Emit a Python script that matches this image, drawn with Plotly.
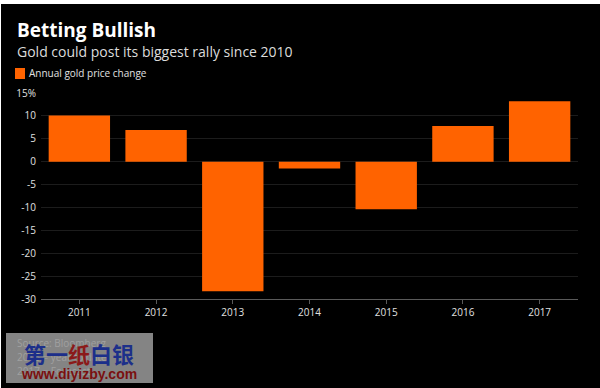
import plotly.graph_objects as go

years = ["2011", "2012", "2013", "2014", "2015", "2016", "2017"]
change = [10.1, 6.9, -28.3, -1.5, -10.4, 7.8, 13.2]
y_ticks = [15, 10, 5, 0, -5, -10, -15, -20, -25, -30]
y_tick_text = ["15%", "10", "5", "0", "-5", "-10", "-15", "-20", "-25", "-30"]
footer_lines = ["Source: Bloomberg", "2016 = year to date", "2017 = Forecast"]

ORANGE = "#ff6300"
FONT = "Open Sans"
L, T, PW, PH = 41, 93, 537, 206


def px(x):
    return (x - L) / PW


def py(y):
    return 1 - (y - T) / PH


fig = go.Figure()
fig.add_trace(go.Bar(
    x=years, y=change, marker=dict(color=ORANGE, line=dict(width=0)),
    width=0.8, name="Annual gold price change", showlegend=False,
    hoverinfo="x+y",
))

fig.update_layout(
    width=600, height=388,
    paper_bgcolor="#ffffff", plot_bgcolor="#000000",
    margin=dict(l=L, r=600 - L - PW, t=T, b=388 - T - PH),
    font=dict(family=FONT, color="#d8d8d8", size=10),
    xaxis=dict(
        type="category", range=[-0.5, 6.5], showgrid=False,
        showline=True, linecolor="#5a5a5a", linewidth=1,
        ticks="outside", ticklen=4, tickcolor="#5a5a5a",
        tickfont=dict(size=10, color="#e0e0e0", family=FONT),
        zeroline=False,
    ),
    yaxis=dict(
        range=[-30, 15], tickvals=y_ticks, ticktext=y_tick_text,
        showgrid=True, gridcolor="#1c1c1c", gridwidth=1,
        zeroline=False, showline=False, ticks="",
        tickfont=dict(size=10, color="#e0e0e0", family=FONT),
        ticklabelstandoff=4,
    ),
    bargap=0.2,
)

# black canvas of the screenshot, with a thin white edge at top/left
fig.add_shape(type="rect", xref="paper", yref="paper", x0=px(1), x1=px(601),
              y0=py(390), y1=py(4),
              fillcolor="#000000", line=dict(width=0), layer="below")

# title & subtitle
fig.add_annotation(text="<b>Betting Bullish</b>", xref="paper", yref="paper",
                   x=px(15), y=py(30), xanchor="left", yanchor="middle",
                   showarrow=False, font=dict(size=19, color="white", family=FONT))
fig.add_annotation(text="Gold could post its biggest rally since 2010", xref="paper", yref="paper",
                   x=px(15), y=py(51), xanchor="left", yanchor="middle",
                   showarrow=False, font=dict(size=14, color="#dcdcdc", family=FONT))
# legend
fig.add_shape(type="rect", xref="paper", yref="paper",
              x0=px(15), x1=px(25), y0=py(79), y1=py(68),
              fillcolor=ORANGE, line=dict(width=0))
fig.add_annotation(text="Annual gold price change", xref="paper", yref="paper",
                   x=px(27), y=py(73), xanchor="left", yanchor="middle",
                   showarrow=False, font=dict(size=10, color="#e0e0e0", family=FONT))

# footer
for i, line in enumerate(footer_lines):
    fig.add_annotation(text=line, xref="paper", yref="paper",
                       x=px(15), y=py(343 + 14 * i),
                       xanchor="left", yanchor="middle", showarrow=False,
                       font=dict(size=10, color="#a0a0a0", family=FONT))

# watermark overlay present in the reference image
fig.add_shape(type="rect", xref="paper", yref="paper",
              x0=px(6), x1=px(153), y0=py(383), y1=py(333),
              fillcolor="rgba(165,165,165,0.8)", line=dict(width=0), layer="above")
fig.add_annotation(text="<b>第一<span style='color:#8b1a1a'>纸</span>白银</b>", xref="paper", yref="paper",
                   x=px(79), y=py(353), xanchor="center", yanchor="middle",
                   showarrow=False, font=dict(size=22, color="#1c2f8a", family="Noto Sans CJK SC"))
fig.add_annotation(text="<b>www.diyizby.com</b>", xref="paper", yref="paper",
                   x=px(79), y=py(374), xanchor="center", yanchor="middle",
                   showarrow=False, font=dict(size=14, color="#7a1010", family="Liberation Sans"))

fig.write_html("out.html", config={"displayModeBar": False},
               post_script="document.body.style.margin='0';document.body.style.overflow='hidden';")
